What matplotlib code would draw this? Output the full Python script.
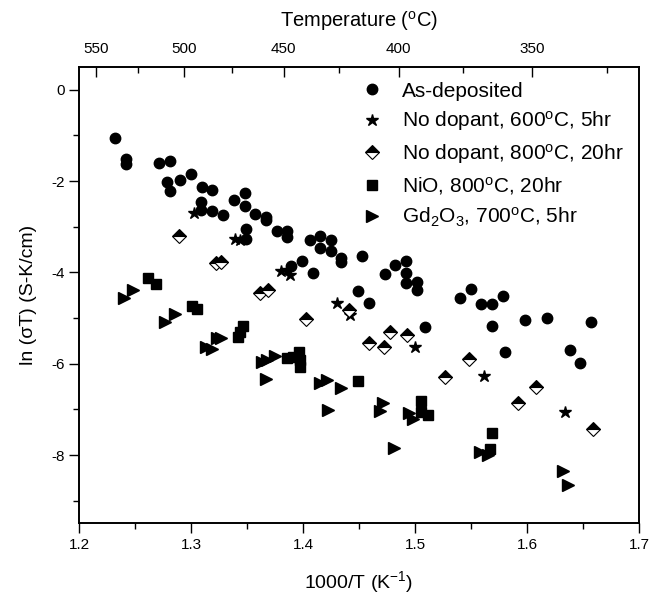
import numpy as np
import matplotlib
matplotlib.use("Agg")
from matplotlib import pyplot as plt
from matplotlib.ticker import MultipleLocator, FixedLocator, NullFormatter

plt.rcParams['font.family'] = ['Liberation Sans', 'DejaVu Sans']
plt.rcParams['mathtext.fontset'] = 'custom'
plt.rcParams['mathtext.rm'] = 'Liberation Sans'
plt.rcParams['mathtext.it'] = 'Liberation Sans:italic'
plt.rcParams['axes.unicode_minus'] = False

# As-deposited
asdep_x = [1.232, 1.242, 1.242, 1.271, 1.281, 1.279, 1.281, 1.290, 1.300, 1.310,
           1.319, 1.309, 1.309, 1.319, 1.329, 1.338, 1.348, 1.348, 1.357, 1.367,
           1.367, 1.349, 1.349, 1.377, 1.386, 1.386, 1.389, 1.399, 1.409, 1.406,
           1.415, 1.425, 1.415, 1.425, 1.434, 1.434, 1.453, 1.449, 1.459, 1.473,
           1.482, 1.492, 1.492, 1.492, 1.502, 1.502, 1.509, 1.540, 1.550, 1.559,
           1.569, 1.579, 1.569, 1.580, 1.598, 1.618, 1.657, 1.638, 1.647]
asdep_y = [-1.06, -1.51, -1.62, -1.60, -1.57, -2.03, -2.21, -1.97, -1.84, -2.13,
           -2.20, -2.46, -2.63, -2.65, -2.74, -2.41, -2.27, -2.54, -2.73, -2.79,
           -2.86, -3.06, -3.26, -3.10, -3.09, -3.23, -3.87, -3.75, -4.01, -3.30,
           -3.20, -3.28, -3.46, -3.53, -3.69, -3.78, -3.63, -4.41, -4.67, -4.03,
           -3.83, -3.74, -4.02, -4.23, -4.22, -4.38, -5.19, -4.55, -4.36, -4.70,
           -4.70, -4.51, -5.17, -5.75, -5.04, -5.00, -5.09, -5.69, -5.98]

# No dopant, 600C, 5hr
nd600_x = [1.303, 1.339, 1.344, 1.380, 1.386, 1.388, 1.430, 1.442, 1.500, 1.562, 1.634]
nd600_y = [-2.70, -3.26, -3.30, -3.96, -3.94, -4.06, -4.67, -4.93, -5.63, -6.27, -7.06]

# No dopant, 800C, 20hr
nd800_x = [1.289, 1.322, 1.327, 1.362, 1.369, 1.403, 1.441, 1.459, 1.472, 1.478,
           1.493, 1.527, 1.548, 1.592, 1.608, 1.659]
nd800_y = [-3.21, -3.79, -3.77, -4.45, -4.39, -5.03, -4.83, -5.54, -5.63, -5.30,
           -5.38, -6.29, -5.89, -6.86, -6.51, -7.44]

# NiO, 800C, 20hr
nio_x = [1.262, 1.269, 1.301, 1.305, 1.346, 1.344, 1.342, 1.386, 1.391, 1.396,
         1.397, 1.397, 1.449, 1.505, 1.505, 1.512, 1.569, 1.567]
nio_y = [-4.13, -4.25, -4.74, -4.81, -5.18, -5.31, -5.42, -5.88, -5.86, -5.74,
         -5.92, -6.07, -6.38, -6.82, -7.05, -7.13, -7.51, -7.86]

# Gd2O3, 700C, 5hr
gd_x = [1.240, 1.248, 1.277, 1.286, 1.313, 1.319, 1.323, 1.327, 1.363, 1.368,
        1.375, 1.367, 1.415, 1.421, 1.434, 1.422, 1.471, 1.469, 1.495, 1.498,
        1.481, 1.558, 1.565, 1.632, 1.637]
gd_y = [-4.55, -4.38, -5.09, -4.92, -5.63, -5.68, -5.43, -5.43, -5.96, -5.92,
        -5.84, -6.34, -6.43, -6.36, -6.53, -7.02, -6.85, -7.04, -7.07, -7.21,
        -7.84, -7.93, -8.00, -8.35, -8.65]

top_temps = [550, 500, 450, 400, 350]
top_minor_temps = [525, 475, 425, 375, 325]

fig = plt.figure(figsize=(6.62, 5.98), dpi=100)
ax = fig.add_axes([0.1193, 0.1246, 0.8460, 0.7634])

ax.plot(asdep_x, asdep_y, 'o', color='black', ms=7.5, label='As-deposited')
ax.plot(nd600_x, nd600_y, '*', color='black', ms=9, label=r'No dopant, 600$^{\mathrm{o}}$C, 5hr')
ax.plot(nd800_x, nd800_y, 'D', ms=7, markerfacecolor='black', markerfacecoloralt='white',
        fillstyle='top', markeredgecolor='black', markeredgewidth=0.8,
        label=r'No dopant, 800$^{\mathrm{o}}$C, 20hr')
ax.plot(nio_x, nio_y, 's', color='black', ms=7, label=r'NiO, 800$^{\mathrm{o}}$C, 20hr')
ax.plot(gd_x, gd_y, '>', color='black', ms=8, label=r'Gd$_{2}$O$_{3}$, 700$^{\mathrm{o}}$C, 5hr')

ax.set_xlim(1.2, 1.7)
ax.set_ylim(-9.5, 0.5)
ax.xaxis.set_major_locator(MultipleLocator(0.1))
ax.xaxis.set_minor_locator(MultipleLocator(0.05))
ax.yaxis.set_major_locator(MultipleLocator(2))
ax.yaxis.set_minor_locator(MultipleLocator(1))
ax.tick_params(which='both', direction='out', top=False, right=False, labelsize=11, width=1)
ax.tick_params(which='major', length=7)
ax.tick_params(which='minor', length=4)
ax.set_xlabel(r'1000/T (K$^{\mathrm{-1}}$)', fontsize=14, labelpad=12)
ax.set_ylabel('ln (σT) (S-K/cm)', fontsize=14, labelpad=10)

# top axis: temperature in C
ax2 = ax.twiny()
ax2.set_xlim(ax.get_xlim())
ax2.xaxis.set_major_locator(FixedLocator([1000.0 / (t + 273.15) for t in top_temps]))
ax2.xaxis.set_minor_locator(FixedLocator([1000.0 / (t + 273.15) for t in top_minor_temps]))
ax2.set_xticklabels([str(t) for t in top_temps])
ax2.xaxis.set_minor_formatter(NullFormatter())
ax2.tick_params(which='both', direction='in', labelsize=11, width=1)
ax2.tick_params(which='major', length=7, pad=8)
ax2.tick_params(which='minor', length=4)
ax2.set_xlabel(r'Temperature ($^{\mathrm{o}}$C)', fontsize=14.5, labelpad=11)

for a in (ax, ax2):
    for s in a.spines.values():
        s.set_linewidth(1.2)

ax.legend(loc='upper left', bbox_to_anchor=(0.475, 1.0), frameon=False, fontsize=15,
          handlelength=1.2, handletextpad=0.85, labelspacing=0.42, borderaxespad=0.3)

fig.savefig('out.png', dpi=100)
